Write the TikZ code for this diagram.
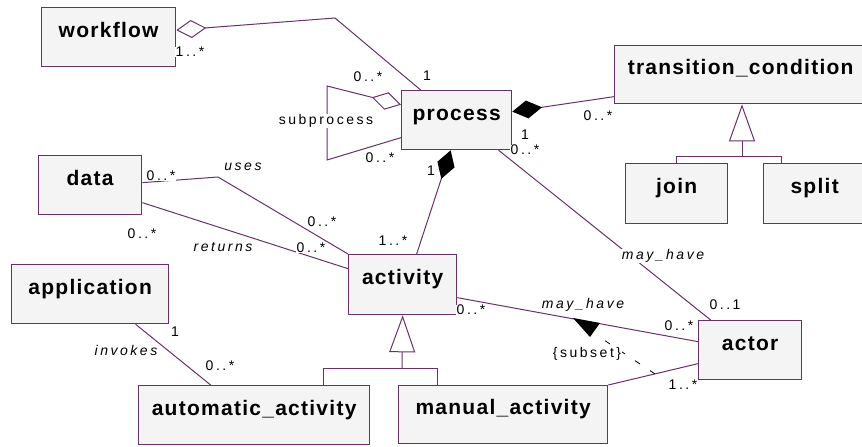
\documentclass[tikz,border=0pt]{standalone}
\usepackage{fontspec}
\setmainfont{Liberation Sans}
\newfontfamily\clsfont[LetterSpace=6]{Liberation Sans}
\newfontfamily\lblfont[LetterSpace=18]{Liberation Sans}
\usetikzlibrary{arrows.meta,calc}
\definecolor{umlline}{HTML}{663366}
\definecolor{umlfill}{HTML}{F4F4F4}
\tikzset{
  cls/.style={draw=umlline, fill=umlfill, line width=1.3pt, anchor=north west, inner sep=0pt,
    minimum height=59pt, text height=15pt, text depth=15pt,
    font=\clsfont\bfseries\fontsize{21}{25}\selectfont},
  lbl/.style={fill=white, inner sep=0.5pt, font=\lblfont\fontsize{14}{16}\selectfont},
  role/.style={lbl, font=\lblfont\itshape\fontsize{14}{16}\selectfont},
  assoc/.style={draw=umlline, line width=1pt},
  agg/.style={assoc, {Diamond[open,fill=white,length=30pt,width=18pt]}-},
  comp/.style={assoc, {Diamond[color=black,fill=black,length=30pt,width=18pt]}-},
  gen/.style={assoc, -{Triangle[open,fill=white,length=37pt,width=26pt]}},
}
\begin{document}
\begin{tikzpicture}[x=1pt,y=-1pt]
\useasboundingbox (0,0) rectangle (862,447);

% classes
\node[cls, minimum width=134pt] (workflow) at (41,7) {workflow};
\node[cls, minimum width=110pt] (process) at (401,90) {process};
\node[cls, minimum width=252pt, minimum height=58pt] (tc) at (614,45) {transition\_condition};
\node[cls, minimum width=102pt, minimum height=60pt] (join) at (625,163) {join};
\node[cls, minimum width=102pt, minimum height=60pt] (split) at (763,163) {split};
\node[cls, minimum width=103pt] (data) at (38,155) {data};
\node[cls, minimum width=157pt] (application) at (11,264) {application};
\node[cls, minimum width=108pt, minimum height=60pt] (activity) at (348,254) {activity};
\node[cls, minimum width=231pt] (automatic) at (138,385) {automatic\_activity};
\node[cls, minimum width=209pt, minimum height=58pt] (manual) at (398,385) {manual\_activity};
\node[cls, minimum width=103pt] (actor) at (698,320) {actor};

% bend points
\coordinate (wfbend) at (335,18);
\coordinate (subA) at (327,86);
\coordinate (subB) at (327,160);
\coordinate (usesbend) at (218,177);
\coordinate (tcfork) at (742,156);
\coordinate (actfork) at (402,368);

% associations
\path[agg] ([yshift=7pt]workflow.east) -- (wfbend) -- ([xshift=-36pt]process.north);
\path[agg] ([yshift=15.5pt]process.west) -- (subA) -- (subB) -- ([yshift=-17.5pt]process.west);
\path[comp] ([yshift=8.5pt]process.east) -- ([yshift=-22pt]tc.west);
\path[comp] ([xshift=-6pt]process.south) -- ([xshift=14pt]activity.north);
\path[assoc] ([xshift=42pt]process.south) -- ([xshift=-39.5pt]actor.north);
\path[assoc] ([yshift=2.5pt]data.east) -- (usesbend) -- (activity.north west);
\path[assoc] ([yshift=-17.5pt]data.east) -- ([yshift=16pt]activity.west);
\path[assoc] ([xshift=45.5pt]application.south) -- ([xshift=-43.5pt]automatic.north);
\path[assoc] ([yshift=-13pt]activity.east) -- ([yshift=8.5pt]actor.west);
\path[assoc] (manual.north east) -- ([yshift=-13.5pt]actor.west);

% generalizations
\path[assoc] (join.north) |- (tcfork);
\path[assoc] ([xshift=-33pt]split.north) |- (tcfork);
\path[gen] (tcfork) -- (tcfork |- tc.south);
\path[assoc] ([xshift=69.5pt]automatic.north) |- (actfork);
\path[assoc] ([xshift=-65.5pt]manual.north) |- (actfork);
\path[gen] (actfork) -- (activity.south);

% subset constraint
\coordinate (subsetfrom) at ($(manual.north east)!0.52!([yshift=-13.5pt]actor.west)$);
\coordinate (subsetto) at (604,340);
\path[draw, line width=0.8pt, dash pattern=on 6pt off 12pt] (subsetfrom) -- (subsetto);

% multiplicities and roles
\node[lbl] (wfmult) at (190,52) {1..*};
\node[lbl] (prmult) at (427,76) {1};
\node[lbl] (subm1) at (368,77) {0..*};
\node[lbl] (subm2) at (380,158) {0..*};
\node[lbl] (sublbl) at (326,121) {subprocess};
\node[lbl] (tcmult) at (598,116) {0..*};
\node[lbl] (prtc) at (525,135) {1};
\node[lbl] (pract) at (525,150) {0..*};
\node[role] (mayhave1) at (663,256) {may\_have};
\node[lbl] (actorm1) at (725,305) {0..1};
\node[lbl] (prcomp) at (431,171) {1};
\node[lbl] (actcomp) at (393,241) {1..*};
\node[lbl] (usesd) at (161,176) {0..*};
\node[role] (useslbl) at (243,167) {uses};
\node[lbl] (usesa) at (322,222) {0..*};
\node[lbl] (retd) at (142,234) {0..*};
\node[role] (retlbl) at (223,247) {returns};
\node[lbl] (reta) at (311,248) {0..*};
\node[lbl] (appm) at (175,332) {1};
\node[role] (invlbl) at (126,350) {invokes};
\node[lbl] (autom) at (220,366) {0..*};
\node[lbl] (actm2) at (471,310) {0..*};
\node[role] (mayhave2) at (583,305) {may\_have};
\node[lbl] (actorm2) at (679,326) {0..*};
\node[lbl] (actorm3) at (683,385) {1..*};
\node[lbl] (subsetlbl) at (587,354) {\{subset\}};

\path[fill=black] (573,318) -- (600,323) -- (590,337) -- cycle;
\end{tikzpicture}
\end{document}
